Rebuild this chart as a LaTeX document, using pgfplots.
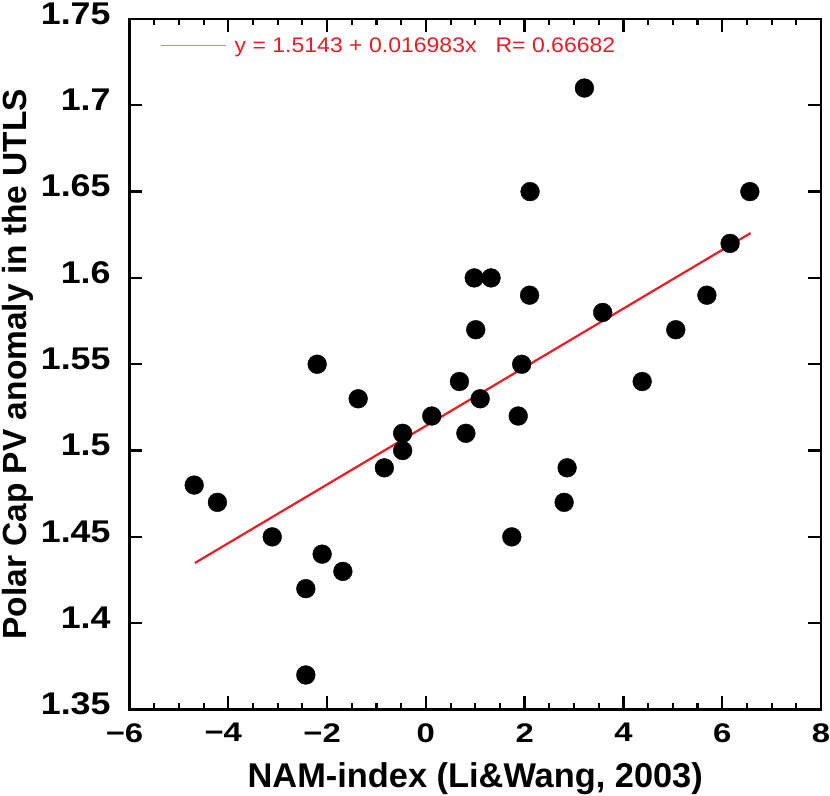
\documentclass[border=0pt]{standalone}
\usepackage{pgfplots}
\pgfplotsset{compat=1.18}
\usepackage{fontspec}
\setmainfont{Liberation Sans}
\newfontfamily\xtickfont[FakeStretch=1.22]{Liberation Sans}
\newfontfamily\ytickfont[FakeStretch=1.14]{Liberation Sans}
\newfontfamily\legfont[FakeStretch=1.09]{Liberation Sans}
\definecolor{fitred}{RGB}{236,28,36}

\begin{document}
\begin{tikzpicture}
\begin{axis}[
  at={(0,0)}, anchor=south west,
  scale only axis, width=691.5bp, height=690.5bp,
  xmin=-6, xmax=8, ymin=1.35, ymax=1.75,
  xtick={-6,-4,-2,0,2,4,6,8},
  xticklabels={\kern-10bp−6,\kern-10bp−4,\kern-10bp−2,0,2,4,6,8},
  minor x tick num=3,
  ytick={1.35,1.4,1.45,1.5,1.55,1.6,1.65,1.7,1.75},
  yticklabels={1.35,1.4,1.45,1.5,1.55,1.6,1.65,1.7,1.75},
  tick align=inside,
  major tick length=13bp, minor tick length=6.5bp,
  axis line style={line width=2.2bp, black},
  major tick style={line width=2.3bp, black},
  minor tick style={line width=2.1bp, black},
  xticklabel style={font=\xtickfont\bfseries\fontsize{27}{27}\selectfont,
     anchor=north, inner sep=0pt, outer sep=0pt, yshift=-13.8bp},
  yticklabel style={font=\ytickfont\bfseries\fontsize{31.5}{31.5}\selectfont,
     anchor=east, inner sep=0pt, outer sep=0pt, xshift=-19bp, yshift=5.5bp},
  xlabel={NAM-index (Li\&Wang, 2003)},
  ylabel={Polar Cap PV anomaly in the UTLS},
  xlabel style={font=\bfseries\fontsize{34.5}{34.5}\selectfont,
     at={(axis description cs:0.5,0)}, anchor=base, yshift=-77.8bp},
  ylabel style={font=\bfseries\fontsize{33.6}{33.6}\selectfont,
     at={(axis description cs:-0.1495,0.5)}, anchor=base},
  legend style={at={(axis description cs:0.0441,0.9613)}, anchor=west,
     draw=none, fill=none, inner sep=0pt, outer sep=0pt,
     font=\legfont\fontsize{21.2}{21.2}\selectfont, text=fitred,
     cells={anchor=west}, nodes={inner sep=0pt, outer sep=0pt},
     column sep=7.6bp},
  legend image code/.code={\draw[fitred!60, line width=1.4bp] (0bp,0bp) -- (65.7bp,0bp);},
]
\addplot[fitred, line width=2.2bp, mark=none] coordinates {(-4.674,1.4349) (6.575,1.6260)};
\addlegendentry{y = 1.5143 + 0.016983x\hspace{19bp}R= 0.66682}
\addplot[only marks, mark=*, mark size=9.4bp, black, mark options={fill=black, draw=black}, forget plot] coordinates {
(-4.69,1.48) (-4.22,1.47) (-3.11,1.45) (-2.10,1.44) (-1.68,1.43) (-2.43,1.42)
(-2.43,1.37) (-0.84,1.49) (-0.47,1.50) (-0.47,1.51) (-2.20,1.55) (-1.37,1.53)
(0.12,1.52) (0.81,1.51) (1.87,1.52) (1.74,1.45) (2.86,1.49) (2.80,1.47)
(1.10,1.53) (3.21,1.71) (2.11,1.65) (6.56,1.65) (6.16,1.62) (0.98,1.60)
(1.32,1.60) (2.10,1.59) (5.69,1.59) (3.58,1.58) (1.01,1.57) (5.06,1.57)
(1.94,1.55) (0.68,1.54) (4.38,1.54)
};
\end{axis}
\pgfresetboundingbox
\path[use as bounding box] (-129.5bp,-86.5bp) rectangle (700.5bp,709.5bp);
\end{tikzpicture}
\end{document}
